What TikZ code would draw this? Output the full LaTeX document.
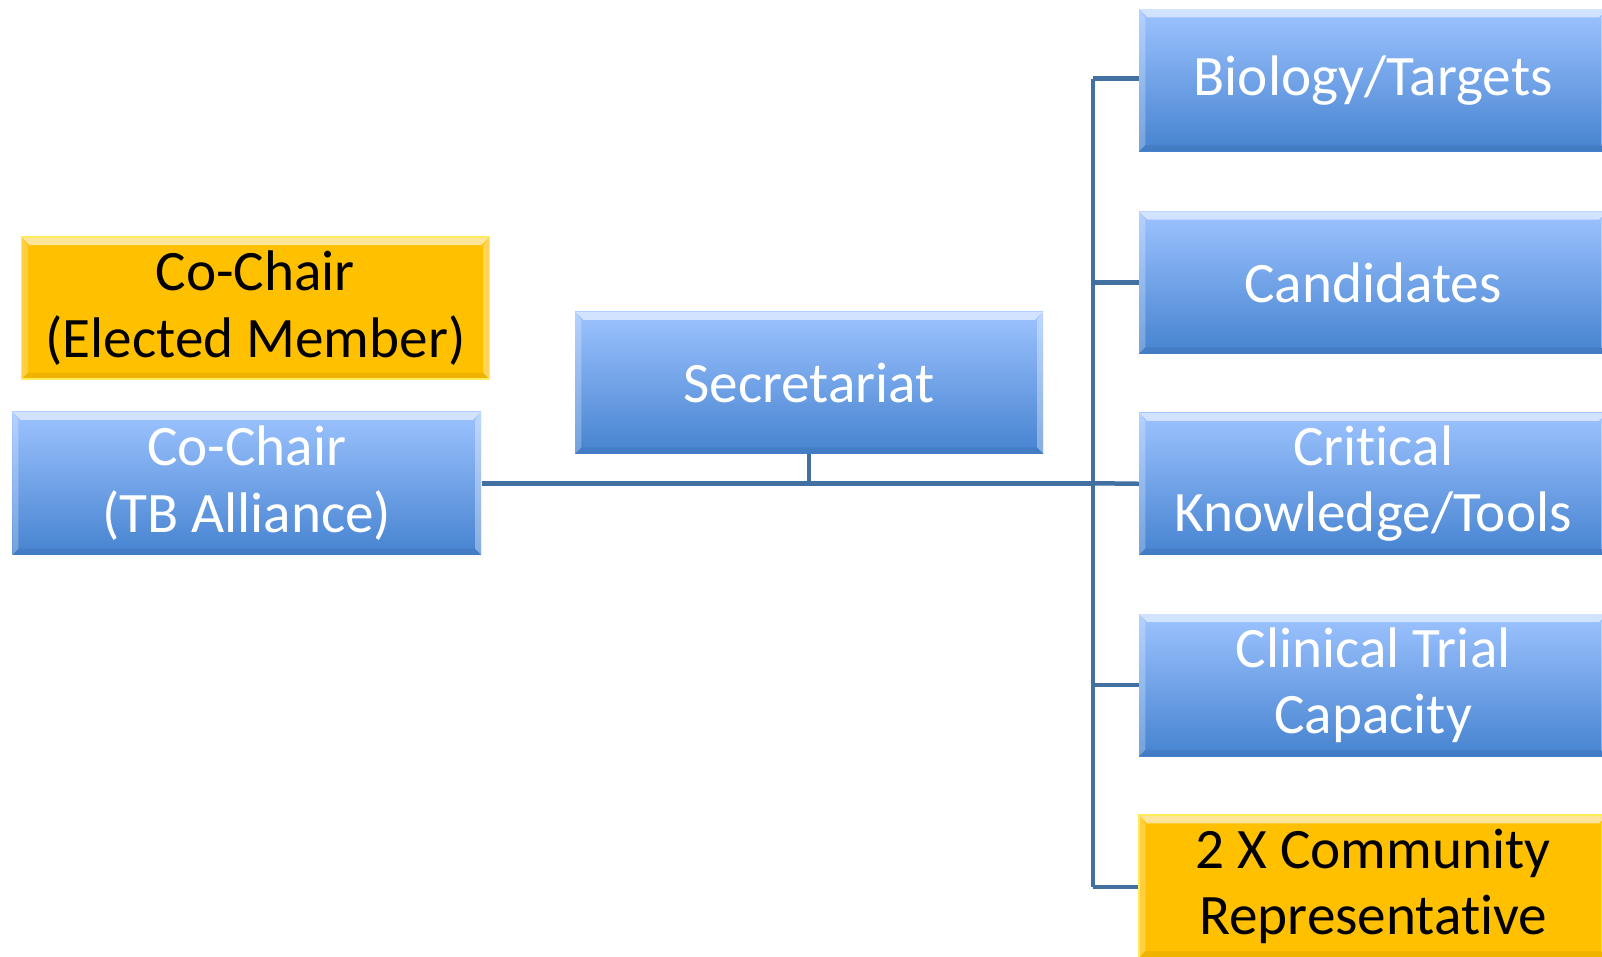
\documentclass[tikz,border=0pt]{standalone}
\usepackage{fontspec}
\setmainfont{Carlito}[Ligatures=NoCommon]
\definecolor{bluetop}{RGB}{157,195,255}
\definecolor{bluebot}{RGB}{70,131,208}
\definecolor{goldfill}{RGB}{255,192,0}
\definecolor{goldtop}{RGB}{255,236,90}
\definecolor{connblue}{RGB}{66,112,160}
\tikzset{
  bevel/.style={path picture={
    \fill[white,opacity=#1] (path picture bounding box.north west) -- (path picture bounding box.north east)
      -- ([shift={(-4pt,-4pt)}]path picture bounding box.north east) -- ([shift={(4pt,-4pt)}]path picture bounding box.north west) -- cycle;
    \fill[white,opacity=0.25] (path picture bounding box.north west) -- (path picture bounding box.south west)
      -- ([shift={(3pt,3pt)}]path picture bounding box.south west) -- ([shift={(3pt,-4pt)}]path picture bounding box.north west) -- cycle;
    \fill[white,opacity=0.35] (path picture bounding box.north east) -- (path picture bounding box.south east)
      -- ([shift={(-3pt,3pt)}]path picture bounding box.south east) -- ([shift={(-3pt,-4pt)}]path picture bounding box.north east) -- cycle;
    \fill[black,opacity=0.06] (path picture bounding box.south west) -- (path picture bounding box.south east)
      -- ([shift={(-3pt,3pt)}]path picture bounding box.south east) -- ([shift={(3pt,3pt)}]path picture bounding box.south west) -- cycle;
  }},
  boxbase/.style={rectangle, inner sep=0pt, minimum height=69.5pt, minimum width=229pt,
    font=\fontsize{28}{32.5}\selectfont},
  bluebox/.style={boxbase, shading=axis, top color=bluetop, bottom color=bluebot,
    shading angle=0, text=white, bevel=0.55},
  goldbox/.style={boxbase, fill=goldfill, text=black, bevel=0.6,
    draw=goldtop, line width=0.8pt},
  conn/.style={draw=connblue, line width=2.2pt},
}
\newcommand{\boxtext}[1]{\parbox{225pt}{\centering #1}}
\begin{document}
\begin{tikzpicture}[x=0.5pt,y=-0.5pt]
\useasboundingbox (0,0) rectangle (1568,936);
\begin{scope}
\clip (0,0) rectangle (1568,936);
% left boxes
\node[goldbox] (cochairE) at (250,301.5) {\boxtext{Co-Chair\\(Elected Member)}};
\node[bluebox, minimum width=229.5pt, minimum height=70pt] (cochairTB) at (241.5,473) {\boxtext{Co-Chair\\(TB Alliance)}};
% secretariat
\node[bluebox] (secr) at (792,374.5) {\boxtext{Secretariat}};
% right boxes
\node[bluebox] (bio) at (1344,78.5) {\boxtext{Biology/Targets}};
\node[bluebox] (cand) at (1344,276.5) {\boxtext{Candidates}};
\node[bluebox] (crit) at (1344,473.5) {\boxtext{Critical\\Knowledge/Tools}};
\node[bluebox] (clin) at (1344,670.5) {\boxtext{Clinical Trial\\Capacity}};
\node[goldbox] (comm) at (1344,867.5) {\boxtext{2 X Community\\Representative}};
% connectors
\coordinate (busT) at (1070,77);
\coordinate (busB) at (1070,868);
\coordinate (busM) at (1070,473);
\draw[conn] (cochairTB.east) -- (busM);
\draw[conn] (secr.south) -- (secr.south |- cochairTB.east);
\draw[conn] (busT) -- (busB);
\draw[conn] (busT) -- (busT -| bio.west);
\draw[conn] (busT |- cand.west) -- (cand.west);
\draw[conn] (busM) -- (crit.west);
\draw[conn] (busT |- clin.west) -- (clin.west);
\draw[conn] (busB) -- (busB -| comm.west);
\end{scope}
\end{tikzpicture}
\end{document}
